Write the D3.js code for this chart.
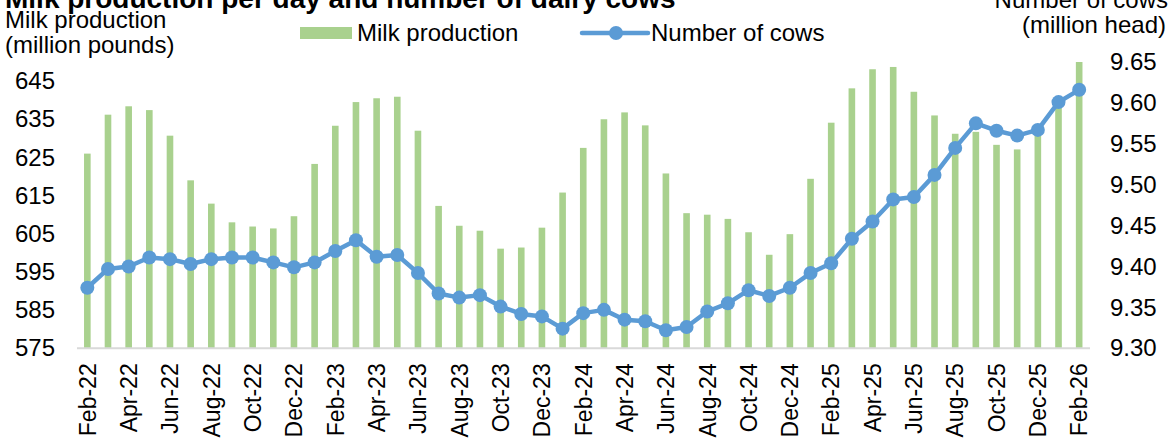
<!DOCTYPE html>
<html>
<head>
<meta charset="utf-8">
<script src="https://cdn.jsdelivr.net/npm/d3@7"></script>
<style>
  html, body { margin: 0; padding: 0; background: #fff; }
  svg { display: block; }
  text { font-family: "Liberation Sans", Arial, sans-serif; fill: #000; }
</style>
</head>
<body>
<svg id="chart" width="1172" height="439"></svg>
<script>
// Monthly series, Feb 2022 – Feb 2026
const months = [
  "Feb-22","Mar-22","Apr-22","May-22","Jun-22","Jul-22","Aug-22","Sep-22","Oct-22","Nov-22","Dec-22",
  "Jan-23","Feb-23","Mar-23","Apr-23","May-23","Jun-23","Jul-23","Aug-23","Sep-23","Oct-23","Nov-23","Dec-23",
  "Jan-24","Feb-24","Mar-24","Apr-24","May-24","Jun-24","Jul-24","Aug-24","Sep-24","Oct-24","Nov-24","Dec-24",
  "Jan-25","Feb-25","Mar-25","Apr-25","May-25","Jun-25","Jul-25","Aug-25","Sep-25","Oct-25","Nov-25","Dec-25",
  "Jan-26","Feb-26"
];

// Milk production per day (million pounds)
const milkProduction = [
  626.0, 636.2, 638.4, 637.4, 630.7, 619.0, 612.9, 608.0, 606.9, 606.4, 609.6,
  623.3, 633.3, 639.5, 640.5, 640.9, 632.0, 612.3, 607.1, 605.8, 601.1, 601.4, 606.6,
  615.8, 627.5, 635.0, 636.8, 633.4, 620.8, 610.4, 610.0, 608.9, 605.4, 599.5, 604.9,
  619.4, 634.1, 643.1, 648.1, 648.7, 642.2, 636.0, 631.2, 631.7, 628.3, 627.1, 631.0,
  639.0, 650.0
];

// Number of dairy cows (million head)
const cowNumbers = [
  9.374, 9.397, 9.400, 9.411, 9.409, 9.403, 9.409, 9.411, 9.411, 9.405, 9.399,
  9.405, 9.419, 9.432, 9.412, 9.414, 9.392, 9.367, 9.362, 9.365, 9.351, 9.342, 9.339,
  9.324, 9.343, 9.347, 9.335, 9.333, 9.322, 9.326, 9.345, 9.355, 9.371, 9.364, 9.374,
  9.392, 9.404, 9.434, 9.455, 9.482, 9.485, 9.512, 9.545, 9.575, 9.566, 9.560, 9.567,
  9.601, 9.616
];

const leftTicks = [575, 585, 595, 605, 615, 625, 635, 645];
const rightTicks = [9.30, 9.35, 9.40, 9.45, 9.50, 9.55, 9.60, 9.65];
const xTickLabels = months.filter((m, i) => i % 2 === 0);

const svg = d3.select("#chart");

const plot = { left: 77, right: 1089.5, top: 62, bottom: 348.3 };

const barColor = "#a9d18e";
const lineColor = "#5b9bd5";
const fontSize = "24px";

const x = d3.scaleBand()
  .domain(months)
  .range([plot.left, plot.right])
  .paddingInner(0.68)
  .paddingOuter(0.34);

const yLeft = d3.scaleLinear().domain([575, 650]).range([plot.bottom, plot.top]);
const yRight = d3.scaleLinear().domain([9.30, 9.65]).range([plot.bottom, plot.top]);

const cx = m => x(m) + x.bandwidth() / 2;

// Bars: milk production
svg.append("g")
  .selectAll("rect")
  .data(months.map((m, i) => ({ m, v: milkProduction[i] })))
  .join("rect")
  .attr("x", d => x(d.m))
  .attr("width", x.bandwidth())
  .attr("y", d => yLeft(d.v))
  .attr("height", d => yLeft(575) - yLeft(d.v))
  .attr("fill", barColor);

// Category axis baseline
svg.append("line")
  .attr("x1", plot.left).attr("x2", plot.right + 0.5)
  .attr("y1", plot.bottom).attr("y2", plot.bottom)
  .attr("stroke", "#d9d9d9")
  .attr("stroke-width", 2);

// Line: number of cows
const cowData = months.map((m, i) => ({ m, v: cowNumbers[i] }));
svg.append("path")
  .datum(cowData)
  .attr("fill", "none")
  .attr("stroke", lineColor)
  .attr("stroke-width", 4.5)
  .attr("stroke-linejoin", "round")
  .attr("d", d3.line().x(d => cx(d.m)).y(d => yRight(d.v)));

svg.append("g")
  .selectAll("circle")
  .data(cowData)
  .join("circle")
  .attr("cx", d => cx(d.m))
  .attr("cy", d => yRight(d.v))
  .attr("r", 7)
  .attr("fill", lineColor);

const styleTicks = (sel, size) => sel.selectAll("text")
  .style("font-size", size)
  .style("font-family", "'Liberation Sans', Arial, sans-serif")
  .attr("fill", "#000");

// Left axis
const leftAxis = svg.append("g")
  .attr("transform", "translate(55,0)")
  .call(d3.axisLeft(yLeft).tickValues(leftTicks).tickSize(0).tickPadding(0).tickFormat(d3.format("d")));
leftAxis.select(".domain").remove();
styleTicks(leftAxis, fontSize);

// Right axis
const rightAxis = svg.append("g")
  .attr("transform", "translate(1110,0)")
  .call(d3.axisRight(yRight).tickValues(rightTicks).tickSize(0).tickPadding(0).tickFormat(d3.format(".2f")));
rightAxis.select(".domain").remove();
styleTicks(rightAxis, fontSize);

// Bottom axis: every other month, rotated
const bottomAxis = svg.append("g")
  .attr("transform", `translate(0,${plot.bottom})`)
  .call(d3.axisBottom(x).tickValues(xTickLabels).tickSize(0).tickPadding(0));
bottomAxis.select(".domain").remove();
styleTicks(bottomAxis, "23px")
  .attr("transform", "rotate(-90)")
  .attr("text-anchor", "end")
  .attr("x", -15)
  .attr("y", 0)
  .attr("dy", "0.36em");

// Title
svg.append("text")
  .attr("x", 5).attr("y", 8)
  .style("font-size", "28px")
  .style("font-weight", "bold")
  .text("Milk production per day and number of dairy cows");

// Axis titles
const axisTitle = (x0, y0, anchor, str) =>
  svg.append("text").attr("x", x0).attr("y", y0)
    .attr("text-anchor", anchor)
    .style("font-size", fontSize)
    .text(str);

axisTitle(5, 28, "start", "Milk production");
axisTitle(5, 53, "start", "(million pounds)");
axisTitle(1168, 8, "end", "Number of cows");
axisTitle(1166, 33, "end", "(million head)");

// Legend
const legend = svg.append("g");
legend.append("rect")
  .attr("x", 300).attr("y", 27).attr("width", 52).attr("height", 12)
  .attr("fill", barColor);
legend.append("text")
  .attr("x", 357).attr("y", 41)
  .style("font-size", fontSize)
  .text("Milk production");

legend.append("line")
  .attr("x1", 582).attr("x2", 648).attr("y1", 33).attr("y2", 33)
  .attr("stroke", lineColor).attr("stroke-width", 4.5).attr("stroke-linecap", "round");
legend.append("circle")
  .attr("cx", 616).attr("cy", 33).attr("r", 7).attr("fill", lineColor);
legend.append("text")
  .attr("x", 651).attr("y", 41)
  .style("font-size", fontSize)
  .text("Number of cows");
</script>
</body>
</html>
